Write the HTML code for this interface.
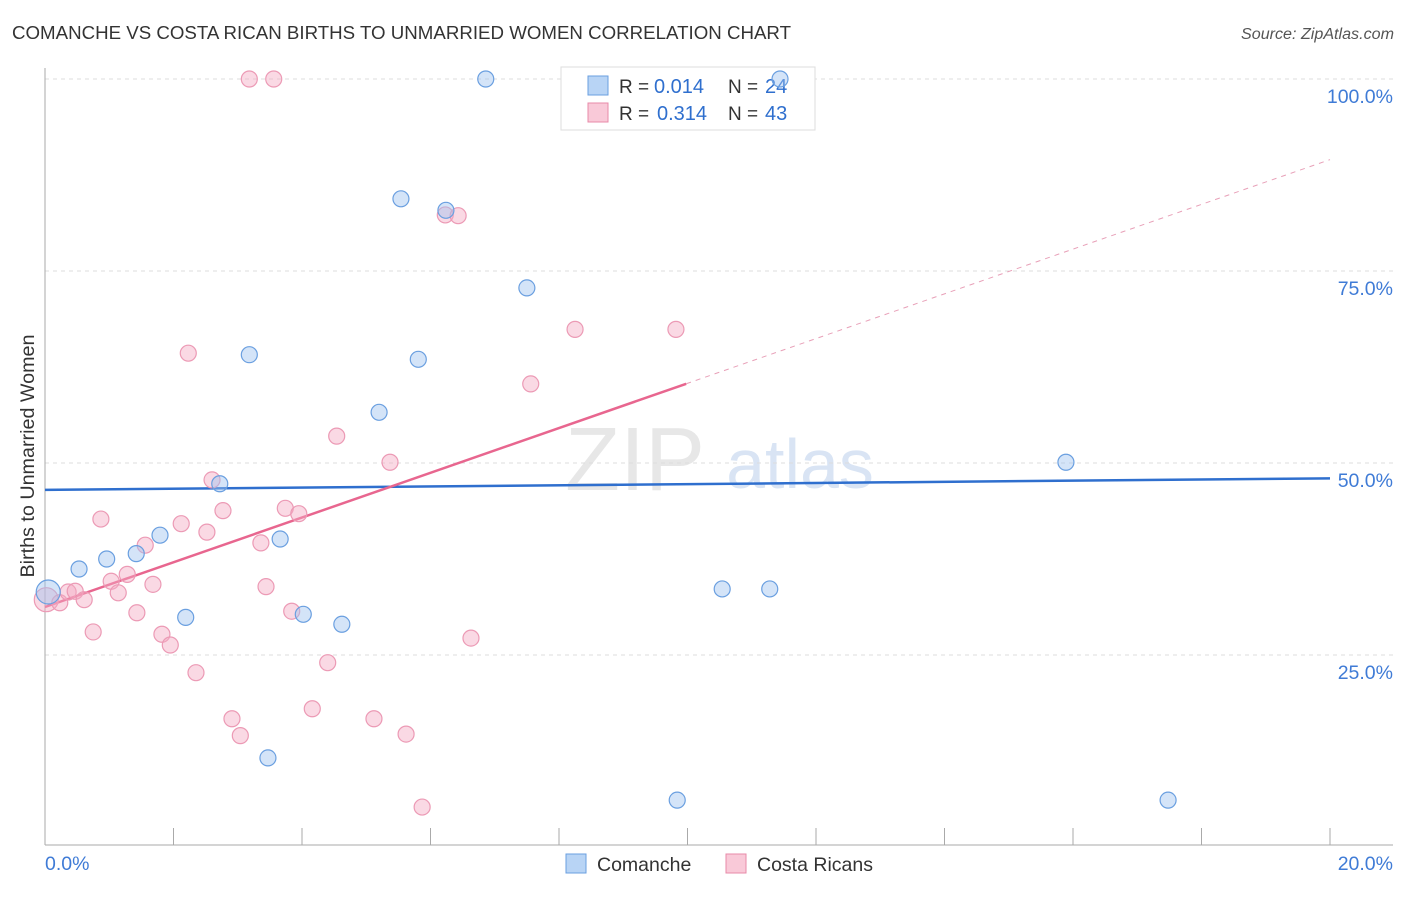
<!DOCTYPE html>
<html><head><meta charset="utf-8"><style>
body{margin:0;background:#fff;font-family:"Liberation Sans",sans-serif}
svg text{font-family:"Liberation Sans",sans-serif}
</style></head><body>
<svg id="chart" width="1406" height="892">
<text x="12" y="39" font-size="18" fill="#333" textLength="779" lengthAdjust="spacingAndGlyphs">COMANCHE VS COSTA RICAN BIRTHS TO UNMARRIED WOMEN CORRELATION CHART</text>
<text x="1394" y="39" font-size="15.5" fill="#555" text-anchor="end" font-style="italic" textLength="153" lengthAdjust="spacingAndGlyphs">Source: ZipAtlas.com</text>
<text x="34" y="456" font-size="19" fill="#333" text-anchor="middle" transform="rotate(-90 34 456)" textLength="243" lengthAdjust="spacingAndGlyphs">Births to Unmarried Women</text>
<g><text x="635" y="490" font-size="90" fill="#ddd" font-family="Liberation Serif" text-anchor="middle" opacity="0.7">ZIP</text><text x="800" y="488" font-size="70" fill="#c9daf0" text-anchor="middle" opacity="0.7">atlas</text></g>
<g id="grid"></g><g id="axes"></g><g id="trends"></g>
<g>
<rect x="561" y="67" width="254" height="63" fill="#fff" stroke="#ddd"/>
<rect x="588" y="76" width="20" height="19" fill="#b8d4f5" stroke="#6a9fe0"/>
<rect x="588" y="103" width="20" height="19" fill="#f9c9d8" stroke="#e88aa8"/>
<text x="619" y="93" font-size="19" fill="#333">R =</text><text x="654" y="93" font-size="20" fill="#2f6fce">0.014</text>
<text x="728" y="93" font-size="19" fill="#333">N =</text><text x="765" y="93" font-size="20" fill="#2f6fce">24</text>
<text x="619" y="120" font-size="19" fill="#333">R =</text><text x="657" y="120" font-size="20" fill="#2f6fce">0.314</text>
<text x="728" y="120" font-size="19" fill="#333">N =</text><text x="765" y="120" font-size="20" fill="#2f6fce">43</text>
</g>
<g id="points"></g>
<g>
<rect x="566" y="854" width="20" height="19" fill="#b8d4f5" stroke="#6a9fe0"/>
<text x="597" y="871" font-size="19.5" fill="#333">Comanche</text>
<rect x="726" y="854" width="20" height="19" fill="#f9c9d8" stroke="#e88aa8"/>
<text x="757" y="871" font-size="19.5" fill="#333">Costa Ricans</text>
</g>
</svg>
<script>
const yTicks=[25,50,75,100];
const yTickLabels=["25.0%","50.0%","75.0%","100.0%"];
const xTickLabels=["0.0%","20.0%"];
const blueX=[0.05,0.53,0.96,1.42,1.79,2.19,2.72,3.18,3.47,3.66,4.02,4.62,5.20,5.54,5.81,6.24,6.86,7.50,10.54,11.28,15.89,17.48,9.84,11.44];
const blueY=[33.2,36.2,37.5,38.2,40.6,29.9,47.3,64.1,11.6,40.1,30.3,29.0,56.6,84.4,63.5,82.9,100,72.8,33.6,33.6,50.1,6.1,6.1,100];
const pinkX=[0.02,0.23,0.36,0.47,0.61,0.75,0.87,1.03,1.14,1.28,1.43,1.56,1.68,1.82,1.95,2.12,2.23,2.35,2.52,2.60,2.77,2.91,3.04,3.18,3.36,3.44,3.56,3.74,3.84,3.95,4.16,4.40,4.54,5.12,5.37,5.62,5.87,6.23,6.43,6.63,7.56,8.25,9.82];
const pinkY=[32.2,31.8,33.2,33.3,32.2,28.0,42.7,34.6,33.1,35.5,30.5,39.3,34.2,27.7,26.3,42.1,64.3,22.7,41.0,47.8,43.8,16.7,14.5,100,39.6,33.9,100,44.1,30.7,43.4,18.0,24.0,53.5,16.7,50.1,14.7,5.2,82.3,82.2,27.2,60.3,67.4,67.4];
const blueTrend=[46.5,48.0];
const pinkTrend=[31.25,89.5];
const pinkSolidEnd=9.98;
const X=v=>45+v*64.25, Y=v=>847-v*7.68;
const NS="http://www.w3.org/2000/svg";
function mk(t,a,p){const e=document.createElementNS(NS,t);for(const k in a)e.setAttribute(k,a[k]);p.appendChild(e);return e;}
const grid=document.getElementById('grid'),axes=document.getElementById('axes'),tr=document.getElementById('trends'),pts=document.getElementById('points');
yTicks.forEach((t,i)=>{
 const l=mk('line',{x1:45,x2:1393,y1:Y(t),y2:Y(t),stroke:'#ddd','stroke-dasharray':'4,4'},grid);
 
 
 const tx=mk('text',{x:1393,y:Y(t)+24,'font-size':19.5,fill:'#3f7bd6','text-anchor':'end'},axes);
 tx.textContent=yTickLabels[i];
 
 
});
mk('line',{x1:45,x2:45,y1:68,y2:845,stroke:'#aaa'},axes);
mk('line',{x1:45,x2:1393,y1:845,y2:845,stroke:'#aaa'},axes);
for(let i=0;i<=10;i++){mk('line',{x1:X(i*2),x2:X(i*2),y1:828,y2:845,stroke:'#aaa'},axes);}
[[0,'start',45],[1,'end',1393]].forEach(([i,a,x])=>{const t=mk('text',{x:x,y:870,'font-size':19.5,fill:'#3f7bd6','text-anchor':a},axes);t.textContent=xTickLabels[i];
 
 });
const bl=mk('line',{x1:X(0),x2:X(20),y1:Y(blueTrend[0]),y2:Y(blueTrend[1]),stroke:'#2f6fce','stroke-width':2.5},tr);


const pe=pinkTrend[0]+(pinkTrend[1]-pinkTrend[0])*pinkSolidEnd/20;
const pl=mk('line',{x1:X(0),x2:X(pinkSolidEnd),y1:Y(pinkTrend[0]),y2:Y(pe),stroke:'#e8668f','stroke-width':2.5},tr);


const pd=mk('line',{x1:X(pinkSolidEnd),x2:X(20),y1:Y(pe),y2:Y(pinkTrend[1]),stroke:'#e8a0b8','stroke-width':1,'stroke-dasharray':'5,5'},tr);


pinkX.forEach((x,i)=>{const c=mk('circle',{cx:X(x),cy:Y(pinkY[i]),r:i==0?12:8,fill:'rgba(245,170,195,0.45)',stroke:'#ec9ab5','stroke-width':1.2},pts);
 
 });
blueX.forEach((x,i)=>{const c=mk('circle',{cx:X(x),cy:Y(blueY[i]),r:i==0?12:8,fill:'rgba(160,195,240,0.45)',stroke:'#6a9fe0','stroke-width':1.2},pts);
 
 });
</script>
</body></html>
